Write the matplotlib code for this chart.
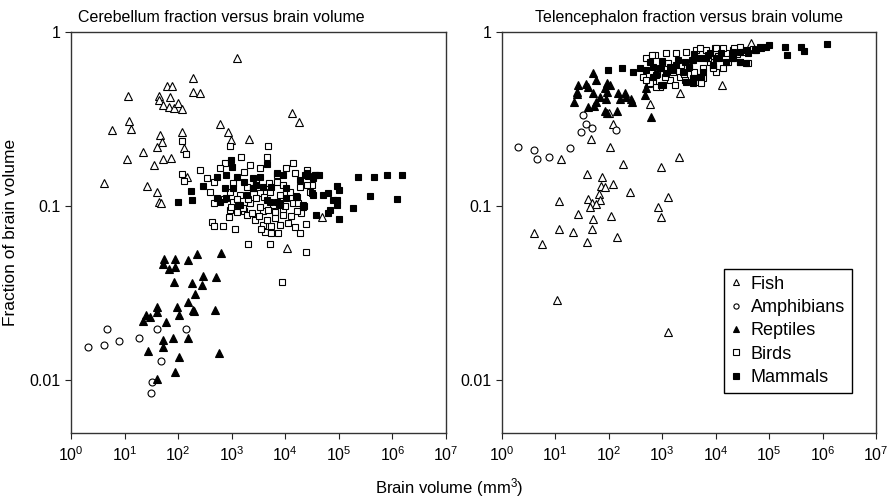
# -*- coding: utf-8 -*-
"""
Cerebellum and telencephalon fraction versus brain volume (log-log scatter).
Values are read by eye off the reference figure, stored as log10 values.
"""
import numpy as np
import matplotlib
matplotlib.use("Agg")
import matplotlib.pyplot as plt
from matplotlib.ticker import FixedLocator, LogLocator, NullLocator

plt.rcParams["font.family"] = ["Liberation Sans", "DejaVu Sans"]
plt.rcParams["mathtext.fontset"] = "custom"
plt.rcParams["mathtext.rm"] = "Liberation Sans"
plt.rcParams["mathtext.it"] = "Liberation Sans:italic"
plt.rcParams["mathtext.bf"] = "Liberation Sans:bold"

groups = ["Fish", "Amphibians", "Reptiles", "Birds", "Mammals"]

# ---- cerebellum panel: (log10 brain volume, log10 fraction) ----
cb_fish = [(3.10, -0.153), (2.28, -0.264), (1.80, -0.312), (1.89, -0.312),
           (1.07, -0.371), (1.65, -0.371), (1.85, -0.376), (2.27, -0.348),
           (2.41, -0.352), (1.64, -0.392), (1.72, -0.422), (1.83, -0.434),
           (1.93, -0.440), (2.00, -0.411), (2.08, -0.445), (1.09, -0.512),
           (0.76, -0.564), (1.12, -0.560), (4.13, -0.468), (4.25, -0.516),
           (2.78, -0.531), (2.07, -0.577), (2.93, -0.577), (1.66, -0.593),
           (1.69, -0.631), (2.99, -0.621), (3.32, -0.616), (1.61, -0.663),
           (2.10, -0.669), (1.34, -0.692), (1.04, -0.732), (1.54, -0.766),
           (1.71, -0.729), (1.87, -0.723), (0.62, -0.868), (1.42, -0.884),
           (1.60, -0.920), (1.64, -0.975), (1.68, -0.981), (2.16, -0.832),
           (4.68, -1.061), (4.04, -1.239)]
cb_amph = [(0.32, -1.807), (0.62, -1.799), (0.67, -1.704), (0.90, -1.776),
           (1.27, -1.759), (1.60, -1.704), (2.15, -1.707), (1.68, -1.893),
           (1.52, -2.011), (1.49, -2.071)]
cb_rept = [(1.74, -1.304), (1.94, -1.304), (2.18, -1.310), (2.36, -1.277),
           (2.80, -1.271), (1.72, -1.335), (1.82, -1.363), (1.95, -1.350),
           (1.93, -1.434), (2.25, -1.444), (2.46, -1.400), (2.44, -1.453),
           (2.71, -1.407), (2.31, -1.507), (2.19, -1.549), (1.61, -1.581),
           (1.60, -1.610), (1.97, -1.581), (2.02, -1.624), (2.27, -1.597),
           (2.29, -1.604), (2.68, -1.597), (1.40, -1.627), (1.47, -1.637),
           (1.35, -1.660), (1.77, -1.667), (1.72, -1.767), (1.91, -1.759),
           (2.19, -1.756), (1.71, -1.809), (1.43, -1.832), (2.76, -1.845),
           (2.01, -1.870), (1.95, -1.952), (1.60, -1.994)]
cb_bird = [(2.08, -0.627), (2.14, -0.703), (2.97, -0.656), (3.68, -0.656),
           (3.17, -0.719), (3.66, -0.719), (2.41, -0.793), (2.08, -0.818),
           (2.11, -0.858), (4.15, -0.752), (2.64, -1.090), (2.66, -1.115),
           (2.83, -1.115), (3.06, -1.134), (3.30, -1.218), (3.71, -1.218),
           (4.38, -1.266), (4.38, -1.103), (4.29, -1.038), (4.50, -0.880),
           (3.93, -1.438), (2.87, -0.755), (2.78, -0.784), (3.22, -0.803),
           (4.02, -0.784), (4.18, -0.812), (2.53, -0.841), (2.66, -0.860),
           (3.03, -0.870), (3.28, -0.889), (3.84, -0.860), (3.96, -0.879),
           (4.27, -0.889), (4.40, -0.879), (2.59, -0.918), (2.97, -0.918),
           (3.15, -0.937), (3.53, -0.927), (3.71, -0.918), (4.09, -0.918),
           (4.46, -0.918), (2.66, -0.985), (3.03, -0.975), (3.34, -0.985),
           (3.46, -0.956), (3.77, -0.994), (4.15, -0.985), (2.97, -1.023),
           (3.22, -1.032), (3.59, -1.032), (3.96, -1.023), (4.21, -1.032),
           (3.34, -0.765), (3.53, -0.784), (4.40, -0.793), (2.95, -1.062),
           (3.09, -1.033), (3.28, -1.052), (3.43, -1.081), (3.59, -1.109),
           (3.62, -1.148), (3.74, -1.153), (3.87, -1.153), (3.74, -1.115),
           (3.90, -1.109), (4.05, -1.100), (4.18, -1.119), (4.27, -1.153),
           (3.53, -1.004), (3.68, -1.023), (3.81, -1.033), (3.37, -1.042),
           (3.21, -1.014), (2.99, -1.004), (3.96, -1.052), (4.24, -0.985),
           (3.40, -0.900), (3.60, -0.950), (3.50, -1.060), (3.65, -1.080),
           (3.80, -1.070), (3.30, -0.960), (3.10, -0.960), (3.90, -0.940),
           (4.00, -1.000), (3.70, -0.870), (3.45, -0.860), (2.85, -0.960),
           (3.55, -1.130), (4.10, -1.060), (3.85, -0.820)]
cb_mamm = [(2.00, -0.975), (2.26, -0.966), (2.24, -0.914), (2.47, -0.884),
           (2.98, -0.736), (3.01, -0.775), (3.65, -0.760), (5.35, -0.832),
           (5.66, -0.832), (5.89, -0.822), (6.18, -0.822), (5.58, -0.943),
           (6.09, -0.960), (5.27, -1.011), (5.01, -1.075), (4.57, -1.052),
           (4.80, -1.042), (4.96, -0.884), (5.01, -0.908), (4.80, -0.927),
           (4.71, -0.937), (4.89, -0.966), (4.96, -0.966), (4.96, -0.994),
           (4.83, -1.023), (4.37, -0.820), (4.43, -0.830), (4.55, -0.825),
           (4.63, -0.820), (4.50, -0.927), (4.35, -1.000), (4.20, -0.945),
           (4.58, -0.822), (4.40, -0.812), (2.72, -0.832), (2.90, -0.822),
           (3.09, -0.832), (3.22, -0.860), (3.40, -0.841), (3.53, -0.832),
           (3.84, -0.812), (3.96, -0.822), (3.46, -0.879), (3.59, -0.889),
           (3.74, -0.889), (3.40, -0.899), (2.87, -0.899), (2.72, -0.956),
           (2.78, -0.975), (2.90, -0.956), (3.12, -0.994), (3.65, -0.966),
           (3.84, -0.975), (4.02, -0.956), (4.21, -0.946), (4.33, -0.994),
           (4.52, -0.937), (3.90, -0.994), (4.02, -0.899), (4.27, -0.851),
           (4.52, -0.841), (3.28, -0.937), (3.03, -0.899), (4.33, -1.004),
           (3.90, -0.985), (3.71, -0.976), (3.15, -0.995)]

# ---- telencephalon panel ----
tel_fish = [(4.66, -0.067), (4.12, -0.306), (3.33, -0.354), (2.78, -0.417),
            (2.08, -0.531), (2.01, -0.465), (1.66, -0.616), (2.03, -0.660),
            (1.11, -0.732), (2.27, -0.761), (2.97, -0.774), (3.31, -0.721),
            (1.60, -0.816), (1.88, -0.832), (2.08, -0.876), (1.85, -0.885),
            (1.93, -0.893), (2.39, -0.918), (3.10, -0.948), (1.06, -0.971),
            (1.62, -0.962), (1.68, -0.981), (1.82, -0.931), (1.83, -0.966),
            (1.77, -0.989), (1.65, -1.004), (2.93, -1.006), (2.98, -1.061),
            (1.42, -1.048), (1.70, -1.075), (2.05, -1.057), (0.60, -1.157),
            (0.75, -1.218), (1.07, -1.134), (1.34, -1.151), (1.68, -1.134),
            (1.60, -1.208), (2.16, -1.176), (1.025, -1.539), (3.10, -1.724)]
tel_amph = [(1.52, -0.478), (1.58, -0.531), (1.68, -0.554), (1.48, -0.577),
            (2.14, -0.564), (1.27, -0.669), (0.31, -0.663), (0.61, -0.680),
            (0.65, -0.732), (0.89, -0.721)]
tel_rept = [(1.71, -0.239), (1.77, -0.277), (1.43, -0.306), (1.58, -0.302),
            (1.41, -0.344), (1.40, -0.357), (1.62, -0.315), (1.96, -0.296),
            (2.02, -0.306), (1.93, -0.325), (1.97, -0.344), (1.71, -0.354),
            (1.83, -0.373), (1.95, -0.386), (1.35, -0.405), (1.77, -0.401),
            (1.73, -0.426), (1.62, -0.434), (2.18, -0.354), (2.30, -0.350),
            (2.21, -0.388), (2.32, -0.376), (2.42, -0.384), (2.44, -0.401),
            (2.74, -0.296), (2.70, -0.325), (2.67, -0.363), (1.93, -0.453),
            (1.96, -0.465), (2.16, -0.453), (2.79, -0.488)]
tel_bird = [(2.70, -0.153), (2.86, -0.134), (3.08, -0.124), (3.26, -0.124),
            (3.45, -0.115), (3.64, -0.105), (3.82, -0.105), (3.98, -0.096),
            (2.83, -0.287), (2.95, -0.315), (3.14, -0.277), (3.33, -0.258),
            (3.64, -0.258), (3.76, -0.268), (3.20, -0.229), (3.51, -0.210),
            (3.76, -0.210), (4.01, -0.229), (2.77, -0.296), (2.95, -0.210),
            (3.89, -0.172), (2.80, -0.134), (2.64, -0.258), (2.70, -0.277),
            (2.89, -0.315), (3.23, -0.306), (3.42, -0.277), (3.61, -0.287),
            (3.95, -0.201), (4.20, -0.124), (4.32, -0.105), (4.45, -0.086),
            (4.01, -0.096), (3.70, -0.096), (4.14, -0.096), (4.35, -0.096),
            (4.51, -0.115), (4.60, -0.182), (4.45, -0.172), (4.23, -0.172),
            (4.14, -0.210), (3.95, -0.210), (3.73, -0.258), (3.73, -0.296),
            (3.05, -0.260), (3.35, -0.190), (3.55, -0.160), (3.85, -0.150),
            (4.05, -0.140), (4.30, -0.150), (3.10, -0.180), (3.40, -0.240),
            (2.90, -0.240), (3.60, -0.230), (4.40, -0.130), (4.70, -0.100)]
tel_mamm = [(1.99, -0.220), (2.24, -0.210), (2.46, -0.229), (2.58, -0.210),
            (2.70, -0.220), (2.83, -0.201), (2.98, -0.210), (3.14, -0.201),
            (3.26, -0.191), (3.42, -0.172), (3.57, -0.162), (3.70, -0.153),
            (3.85, -0.134), (4.01, -0.153), (2.89, -0.248), (3.08, -0.239),
            (3.39, -0.229), (3.57, -0.268), (3.02, -0.306), (3.45, -0.287),
            (2.77, -0.172), (3.95, -0.191), (4.94, -0.086), (5.00, -0.076),
            (5.29, -0.086), (5.34, -0.134), (5.60, -0.086), (5.66, -0.109),
            (6.08, -0.071), (4.60, -0.124), (4.76, -0.105), (4.82, -0.086),
            (4.32, -0.143), (4.45, -0.172), (4.57, -0.182), (4.20, -0.172),
            (3.58, -0.296), (3.70, -0.258), (2.98, -0.306), (2.83, -0.258),
            (4.85, -0.096), (4.73, -0.105), (4.57, -0.105), (4.45, -0.115),
            (4.32, -0.115), (4.07, -0.153), (3.82, -0.153), (3.76, -0.229),
            (4.32, -0.153), (3.20, -0.220), (3.50, -0.200), (3.30, -0.160),
            (3.60, -0.130), (3.90, -0.120), (4.10, -0.120), (3.00, -0.170)]

styles = {"Fish": dict(marker="^", mfc="white", ms=5.5),
          "Amphibians": dict(marker="o", mfc="white", ms=5.0),
          "Reptiles": dict(marker="^", mfc="black", ms=5.5),
          "Birds": dict(marker="s", mfc="white", ms=5.0),
          "Mammals": dict(marker="s", mfc="black", ms=5.0)}

panels = [("Cerebellum fraction versus brain volume",
           [cb_fish, cb_amph, cb_rept, cb_bird, cb_mamm]),
          ("Telencephalon fraction versus brain volume",
           [tel_fish, tel_amph, tel_rept, tel_bird, tel_mamm])]

fig = plt.figure(figsize=(8.93, 5.03), dpi=100)
axes = [fig.add_axes([0.0795, 0.140, 0.420, 0.797]),
        fig.add_axes([0.5620, 0.140, 0.419, 0.797])]

for ax, (title, data) in zip(axes, panels):
    for name, pts in zip(groups, data):
        arr = np.array(pts)
        ax.plot(10 ** arr[:, 0], 10 ** arr[:, 1], linestyle="none",
                mec="black", mew=0.8, label=name, **styles[name])
    ax.set_xscale("log")
    ax.set_yscale("log")
    ax.set_xlim(1, 1e7)
    ax.set_ylim(0.005, 1)
    ax.xaxis.set_major_locator(LogLocator(base=10, numticks=10))
    ax.xaxis.set_minor_locator(NullLocator())
    ax.yaxis.set_major_locator(FixedLocator([0.01, 0.1, 1]))
    ax.yaxis.set_minor_locator(NullLocator())
    ax.set_yticklabels(["0.01", "0.1", "1"])
    ax.tick_params(direction="out", length=4, width=0.8, labelsize=11.5,
                   colors="#222222", labelcolor="black")
    ax.tick_params(axis="x", pad=5)
    for sp in ax.spines.values():
        sp.set_color("#333333")
        sp.set_linewidth(1.0)

# left title sits a little left of the panel centre in the reference
axes[0].set_title("Cerebellum fraction versus brain volume", fontsize=11.5,
                  pad=7, x=0.40)
axes[1].set_title("Telencephalon fraction versus brain volume", fontsize=11.5,
                  pad=7)

axes[0].set_ylabel("Fraction of brain volume", fontsize=12.5, labelpad=8)
fig.text(0.503, 0.008, "Brain volume (mm$^3$)", ha="center", va="bottom",
         fontsize=12)

leg = axes[1].legend(loc="lower right", bbox_to_anchor=(0.936, 0.098),
                     borderaxespad=0, fontsize=13, markerscale=0.75,
                     handlelength=0.6, handletextpad=0.5, labelspacing=0.35,
                     fancybox=False, framealpha=1, edgecolor="black",
                     borderpad=0.4)
leg.get_frame().set_linewidth(1.0)

plt.savefig("out.png", dpi=100)
